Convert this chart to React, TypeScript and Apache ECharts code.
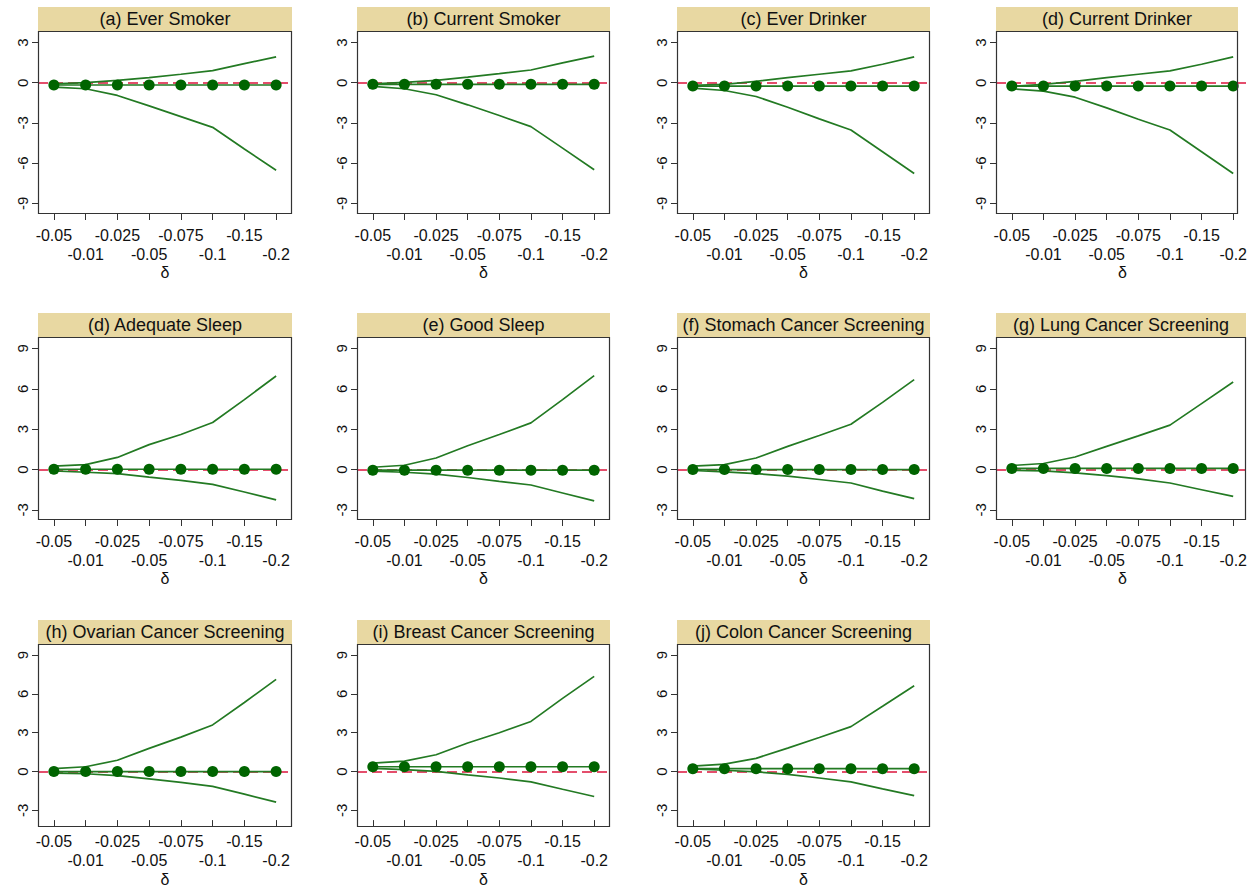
import React, { useEffect, useRef } from 'react';
import * as echarts from 'echarts';

const X_LABELS = ['-0.05', '-0.01', '-0.025', '-0.05', '-0.075', '-0.1', '-0.15', '-0.2'];
const X_NAME = 'δ';

const TITLES = [
  '(a) Ever Smoker', '(b) Current Smoker', '(c) Ever Drinker', '(d) Current Drinker',
  '(d) Adequate Sleep', '(e) Good Sleep', '(f) Stomach Cancer Screening', '(g) Lung Cancer Screening',
  '(h) Ovarian Cancer Screening', '(i) Breast Cancer Screening', '(j) Colon Cancer Screening',
];

const Y_TICKS_ROW1 = [-9, -6, -3, 0, 3];
const Y_TICKS_ROW23 = [-3, 0, 3, 6, 9];

// (a) Ever Smoker
const everSmokerUpper = [-0.08, 0.0, 0.18, 0.38, 0.63, 0.9, 1.43, 1.93];
const everSmokerLower = [-0.33, -0.45, -0.95, -1.73, -2.53, -3.33, -4.95, -6.53];
const everSmokerEst = [-0.17, -0.17, -0.17, -0.17, -0.17, -0.17, -0.17, -0.17];
// (b) Current Smoker
const curSmokerUpper = [-0.08, 0.02, 0.17, 0.42, 0.68, 0.95, 1.48, 1.98];
const curSmokerLower = [-0.28, -0.45, -0.9, -1.65, -2.45, -3.28, -4.88, -6.5];
const curSmokerEst = [-0.12, -0.12, -0.12, -0.12, -0.12, -0.12, -0.12, -0.12];
// (c) Ever Drinker
const everDrinkerUpper = [-0.2, -0.12, 0.1, 0.38, 0.63, 0.88, 1.38, 1.93];
const everDrinkerLower = [-0.4, -0.58, -1.03, -1.83, -2.7, -3.53, -5.15, -6.78];
const everDrinkerEst = [-0.25, -0.25, -0.25, -0.25, -0.25, -0.25, -0.25, -0.25];
// (d) Current Drinker
const curDrinkerUpper = [-0.28, -0.13, 0.1, 0.38, 0.63, 0.88, 1.38, 1.93];
const curDrinkerLower = [-0.45, -0.63, -1.08, -1.88, -2.73, -3.53, -5.15, -6.78];
const curDrinkerEst = [-0.25, -0.25, -0.25, -0.25, -0.25, -0.25, -0.25, -0.25];
// (d) Adequate Sleep
const adeqSleepUpper = [0.25, 0.37, 0.9, 1.85, 2.6, 3.5, 5.2, 6.95];
const adeqSleepLower = [-0.1, -0.2, -0.3, -0.57, -0.8, -1.1, -1.67, -2.25];
const adeqSleepEst = [0.02, 0.02, 0.02, 0.02, 0.02, 0.02, 0.02, 0.02];
// (e) Good Sleep
const goodSleepUpper = [0.17, 0.32, 0.86, 1.77, 2.6, 3.47, 5.2, 6.98];
const goodSleepLower = [-0.12, -0.2, -0.34, -0.59, -0.88, -1.15, -1.74, -2.33];
const goodSleepEst = [-0.05, -0.05, -0.05, -0.05, -0.05, -0.05, -0.05, -0.05];
// (f) Stomach Cancer Screening
const stomachUpper = [0.25, 0.37, 0.86, 1.72, 2.53, 3.37, 4.99, 6.68];
const stomachLower = [-0.07, -0.17, -0.3, -0.49, -0.74, -1.0, -1.6, -2.16];
const stomachEst = [0.0, 0.0, 0.0, 0.0, 0.0, 0.0, 0.0, 0.0];
// (g) Lung Cancer Screening
const lungUpper = [0.3, 0.45, 0.93, 1.72, 2.5, 3.3, 4.9, 6.5];
const lungLower = [-0.05, -0.1, -0.25, -0.45, -0.7, -1.0, -1.5, -2.0];
const lungEst = [0.08, 0.08, 0.08, 0.08, 0.08, 0.08, 0.08, 0.08];
// (h) Ovarian Cancer Screening
const ovarianUpper = [0.22, 0.37, 0.87, 1.79, 2.66, 3.6, 5.33, 7.12];
const ovarianLower = [-0.12, -0.17, -0.32, -0.57, -0.84, -1.14, -1.74, -2.36];
const ovarianEst = [0.0, 0.0, 0.0, 0.0, 0.0, 0.0, 0.0, 0.0];
// (i) Breast Cancer Screening
const breastUpper = [0.65, 0.8, 1.3, 2.2, 3.0, 3.87, 5.65, 7.35];
const breastLower = [0.25, 0.15, 0.02, -0.25, -0.5, -0.8, -1.37, -1.93];
const breastEst = [0.37, 0.37, 0.37, 0.37, 0.37, 0.37, 0.37, 0.37];
// (j) Colon Cancer Screening
const colonUpper = [0.42, 0.57, 1.02, 1.81, 2.63, 3.47, 5.04, 6.63];
const colonLower = [0.2, 0.1, -0.02, -0.22, -0.5, -0.8, -1.34, -1.86];
const colonEst = [0.22, 0.22, 0.22, 0.22, 0.22, 0.22, 0.22, 0.22];

const PANELS = [
  { upper: everSmokerUpper, lower: everSmokerLower, est: everSmokerEst },
  { upper: curSmokerUpper, lower: curSmokerLower, est: curSmokerEst },
  { upper: everDrinkerUpper, lower: everDrinkerLower, est: everDrinkerEst },
  { upper: curDrinkerUpper, lower: curDrinkerLower, est: curDrinkerEst },
  { upper: adeqSleepUpper, lower: adeqSleepLower, est: adeqSleepEst },
  { upper: goodSleepUpper, lower: goodSleepLower, est: goodSleepEst },
  { upper: stomachUpper, lower: stomachLower, est: stomachEst },
  { upper: lungUpper, lower: lungLower, est: lungEst },
  { upper: ovarianUpper, lower: ovarianLower, est: ovarianEst },
  { upper: breastUpper, lower: breastLower, est: breastEst },
  { upper: colonUpper, lower: colonLower, est: colonEst },
];

// layout
const COL_LEFT = [38, 357, 677, 996];
const COL_W = [254, 253, 253, 253];
const ROW_TOP = [31, 337, 644];
const GRID_H = 183;
const STRIP_H = 24;
const FRAME_W_OVERRIDE: Record<number, number> = { 3: 242, 7: 250 };
const Y_RANGE_ROW1 = { min: -9.8, max: 3.86 };
const Y_RANGE_ROW23 = { min: -3.75, max: 9.85 };

const FONT = '"Liberation Sans", Arial, sans-serif';
const LINE_GREEN = '#237A23';
const DOT_GREEN = '#006400';
const RED = '#DC143C';
const STRIP = '#E8D8A2';
const AXIS_COLOR = '#333333';

export default function App() {
  const ref = useRef<HTMLDivElement>(null);
  useEffect(() => {
    if (!ref.current) return;
    const chart = echarts.init(ref.current, null, { renderer: 'svg' });
    const grids: any[] = [];
    const xAxes: any[] = [];
    const yAxes: any[] = [];
    const series: any[] = [];
    const graphics: any[] = [];
    const xData = X_LABELS.map((_, i) => String(i));

    PANELS.forEach((p, i) => {
      const row = Math.floor(i / 4);
      const col = i % 4;
      const left = COL_LEFT[col];
      const width = COL_W[col];
      const top = ROW_TOP[row];
      const frameW = FRAME_W_OVERRIDE[i] ?? width;
      const yr = row === 0 ? Y_RANGE_ROW1 : Y_RANGE_ROW23;
      const ticks = row === 0 ? Y_TICKS_ROW1 : Y_TICKS_ROW23;

      grids.push({ left, top, width, height: GRID_H, show: false });
      xAxes.push({
        type: 'category',
        gridIndex: i,
        position: 'bottom',
        data: xData,
        boundaryGap: true,
        axisLine: { show: false, onZero: false },
        axisTick: { show: true, alignWithLabel: true, length: 6, lineStyle: { color: AXIS_COLOR } },
        axisLabel: {
          interval: 0,
          margin: 12,
          fontSize: 16,
          lineHeight: 19,
          color: '#111',
          fontFamily: FONT,
          formatter: (_v: string, idx: number) => (idx % 2 === 0 ? X_LABELS[idx] : '\n' + X_LABELS[idx]),
        },
        splitLine: { show: false },
        name: X_NAME,
        nameLocation: 'middle',
        nameGap: 45,
        nameTextStyle: { fontSize: 16, color: '#111', fontFamily: FONT },
      });
      yAxes.push({
        type: 'value',
        gridIndex: i,
        position: 'left',
        min: yr.min,
        max: yr.max,
        axisLine: { show: false, onZero: false },
        axisTick: { show: true, length: 6, lineStyle: { color: AXIS_COLOR }, customValues: ticks },
        axisLabel: { rotate: 90, margin: 8, fontSize: 15, color: '#111', fontFamily: FONT, customValues: ticks },
        splitLine: { show: false },
      });
      series.push({
        type: 'line',
        xAxisIndex: i,
        yAxisIndex: i,
        data: p.upper,
        symbol: 'none',
        z: 2,
        lineStyle: { color: LINE_GREEN, width: 1.7 },
        markLine: {
          silent: true,
          symbol: 'none',
          label: { show: false },
          lineStyle: { color: RED, type: [10, 5], width: 1.5 },
          data: [{ yAxis: 0 }],
          z: 1,
        },
      });
      series.push({
        type: 'line',
        xAxisIndex: i,
        yAxisIndex: i,
        data: p.lower,
        symbol: 'none',
        z: 2,
        lineStyle: { color: LINE_GREEN, width: 1.7 },
      });
      series.push({
        type: 'line',
        xAxisIndex: i,
        yAxisIndex: i,
        data: p.est,
        symbol: 'circle',
        symbolSize: 11,
        z: 3,
        itemStyle: { color: DOT_GREEN },
        lineStyle: { color: LINE_GREEN, width: 1.7 },
      });

      graphics.push({
        type: 'rect',
        shape: { x: left, y: top - STRIP_H, width: frameW, height: STRIP_H },
        style: { fill: STRIP },
        z: 1,
      });
      graphics.push({
        type: 'text',
        x: left + frameW / 2,
        y: top - STRIP_H / 2,
        style: {
          text: TITLES[i],
          fill: '#111',
          fontSize: 18,
          fontFamily: FONT,
          align: 'center',
          verticalAlign: 'middle',
        },
        z: 2,
      });
      graphics.push({
        type: 'rect',
        shape: { x: left + 0.5, y: top + 0.5, width: frameW - 1, height: GRID_H - 1 },
        style: { fill: 'none', stroke: AXIS_COLOR, lineWidth: 1.2 },
        z: 10,
      });
    });

    chart.setOption({
      animation: false,
      backgroundColor: '#ffffff',
      grid: grids,
      xAxis: xAxes,
      yAxis: yAxes,
      series,
      graphic: graphics,
    });
    return () => chart.dispose();
  }, []);

  return (
    <div
      ref={ref}
      style={{ position: 'absolute', left: 0, top: 0, width: 1251, height: 888 }}
    />
  );
}
